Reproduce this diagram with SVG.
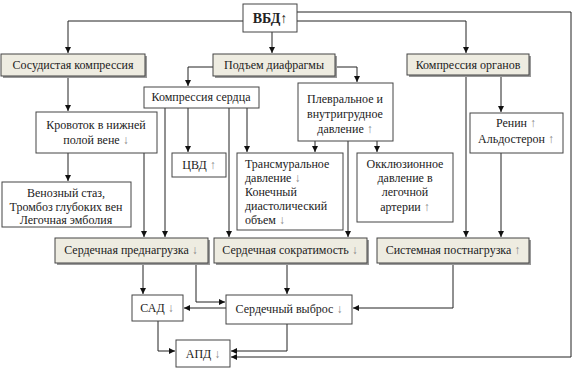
<svg xmlns="http://www.w3.org/2000/svg" width="583" height="373" viewBox="0 0 583 373">
<defs>
<marker id="ah" markerUnits="userSpaceOnUse" markerWidth="7" markerHeight="7" refX="6" refY="3" orient="auto">
<path d="M0,0 L6,3 L0,6 Z" fill="#111"/>
</marker>
</defs>
<style>
text{font-family:'Liberation Serif','Times New Roman',Times,'DejaVu Serif','Noto Serif',serif;font-size:12px;fill:#222}
.c{text-anchor:middle}
.box{fill:#fff;stroke:#444;stroke-width:1}
.bg{fill:#eeece1;stroke:#444;stroke-width:1}
.sh{fill:#999}
.ar{fill:#888}
#connectors path{fill:none;stroke:#222;stroke-width:1;marker-end:url(#ah)}
</style>
<rect width="583" height="373" fill="#fff"/>
<g id="connectors">
<path d="M243,21 H68 V53"/>
<path d="M297,21 H466 V53"/>
<path d="M272,32 V53"/>
<path d="M297,12 H571 V357 H231"/>
<path d="M213,67 H188 V86"/>
<path d="M335,67 H357 V82"/>
<path d="M68,76 V111"/>
<path d="M68,153 V181"/>
<path d="M144,153 V237"/>
<path d="M165,108 V237"/>
<path d="M188,108 V152"/>
<path d="M229,108 V237"/>
<path d="M247,108 V152"/>
<path d="M315,141 V152"/>
<path d="M348,141 V237"/>
<path d="M377,141 V152"/>
<path d="M466,75 V237"/>
<path d="M501,75 V112"/>
<path d="M501,153 V237"/>
<path d="M143,263 V294"/>
<path d="M196,263 V302 H225"/>
<path d="M226,308 H184"/>
<path d="M287,263 V294"/>
<path d="M453,263 V308 H353"/>
<path d="M158,321 V351 H175"/>
<path d="M287,324 V351 H231"/>
</g>
<g id="nodes">
<g id="vbd">
<rect class="box" x="243" y="4" width="54" height="28"/>
<text class="c" x="270" y="23" style="font-weight:bold;font-size:14px">ВБД↑</text>
</g>
<g id="sosud">
<rect class="sh" x="3" y="56" width="144" height="22"/>
<rect class="bg" x="1" y="54" width="144" height="22"/>
<text class="c" x="73" y="69">Сосудистая компрессия</text>
</g>
<g id="podem">
<rect class="sh" x="215" y="56" width="122" height="22"/>
<rect class="bg" x="213" y="54" width="122" height="22"/>
<text class="c" x="274" y="69">Подъем диафрагмы</text>
</g>
<g id="komporg">
<rect class="sh" x="409" y="56" width="122" height="21"/>
<rect class="bg" x="407" y="54" width="122" height="21"/>
<text class="c" x="468" y="69">Компрессия органов</text>
</g>
<g id="kompserd">
<rect class="box" x="144" y="87" width="115" height="21"/>
<text class="c" x="201" y="101">Компрессия сердца</text>
</g>
<g id="plevr">
<rect class="box" x="298" y="83" width="95" height="58"/>
<text class="c" x="345" y="103">Плевральное и</text>
<text class="c" x="345" y="118">внутригрудное</text>
<text class="c" x="345" y="133">давление <tspan class="ar">↑</tspan></text>
</g>
<g id="krovotok">
<rect class="box" x="36" y="112" width="121" height="41"/>
<text class="c" x="96" y="129">Кровоток в нижней</text>
<text class="c" x="96" y="144">полой вене <tspan class="ar">↓</tspan></text>
</g>
<g id="renin">
<rect class="box" x="470" y="113" width="93" height="40"/>
<text class="c" x="516" y="127">Ренин  <tspan class="ar">↑</tspan></text>
<text class="c" x="516" y="143">Альдостерон <tspan class="ar">↑</tspan></text>
</g>
<g id="venoz">
<rect class="box" x="2" y="182" width="129" height="45"/>
<text class="c" x="66" y="197">Венозный стаз,</text>
<text class="c" x="66" y="211">Тромбоз глубоких вен</text>
<text class="c" x="66" y="224">Легочная эмболия</text>
</g>
<g id="cvd">
<rect class="box" x="172" y="153" width="54" height="24"/>
<text class="c" x="199" y="169">ЦВД <tspan class="ar">↑</tspan></text>
</g>
<g id="transm">
<rect class="box" x="237" y="153" width="106" height="77"/>
<text x="245" y="168">Трансмуральное</text>
<text x="245" y="182">давление <tspan class="ar">↓</tspan></text>
<text x="245" y="196">Конечный</text>
<text x="245" y="210">диастолический</text>
<text x="245" y="224">объем <tspan class="ar">↓</tspan></text>
</g>
<g id="okkl">
<rect class="box" x="357" y="153" width="96" height="69"/>
<text class="c" x="405" y="168">Окклюзионное</text>
<text class="c" x="405" y="182">давление в</text>
<text class="c" x="405" y="196">легочной</text>
<text class="c" x="405" y="211">артерии <tspan class="ar">↑</tspan></text>
</g>
<g id="prednagr">
<rect class="sh" x="57" y="240" width="153" height="25"/>
<rect class="bg" x="55" y="238" width="153" height="25"/>
<text class="c" x="131" y="254">Сердечная преднагрузка <tspan class="ar">↓</tspan></text>
</g>
<g id="sokrat">
<rect class="sh" x="216" y="240" width="153" height="25"/>
<rect class="bg" x="214" y="238" width="153" height="25"/>
<text class="c" x="290" y="254">Сердечная сократимость <tspan class="ar">↓</tspan></text>
</g>
<g id="postnagr">
<rect class="sh" x="379" y="240" width="152" height="25"/>
<rect class="bg" x="377" y="238" width="152" height="25"/>
<text class="c" x="453" y="254">Системная постнагрузка <tspan class="ar">↑</tspan></text>
</g>
<g id="sad">
<rect class="box" x="132" y="295" width="51" height="26"/>
<text class="c" x="157" y="312">САД <tspan class="ar">↓</tspan></text>
</g>
<g id="vybros">
<rect class="box" x="226" y="295" width="126" height="29"/>
<text class="c" x="289" y="313">Сердечный выброс <tspan class="ar">↓</tspan></text>
</g>
<g id="apd">
<rect class="box" x="176" y="340" width="54" height="27"/>
<text class="c" x="203" y="358">АПД <tspan class="ar">↓</tspan></text>
</g>
</g>
</svg>
